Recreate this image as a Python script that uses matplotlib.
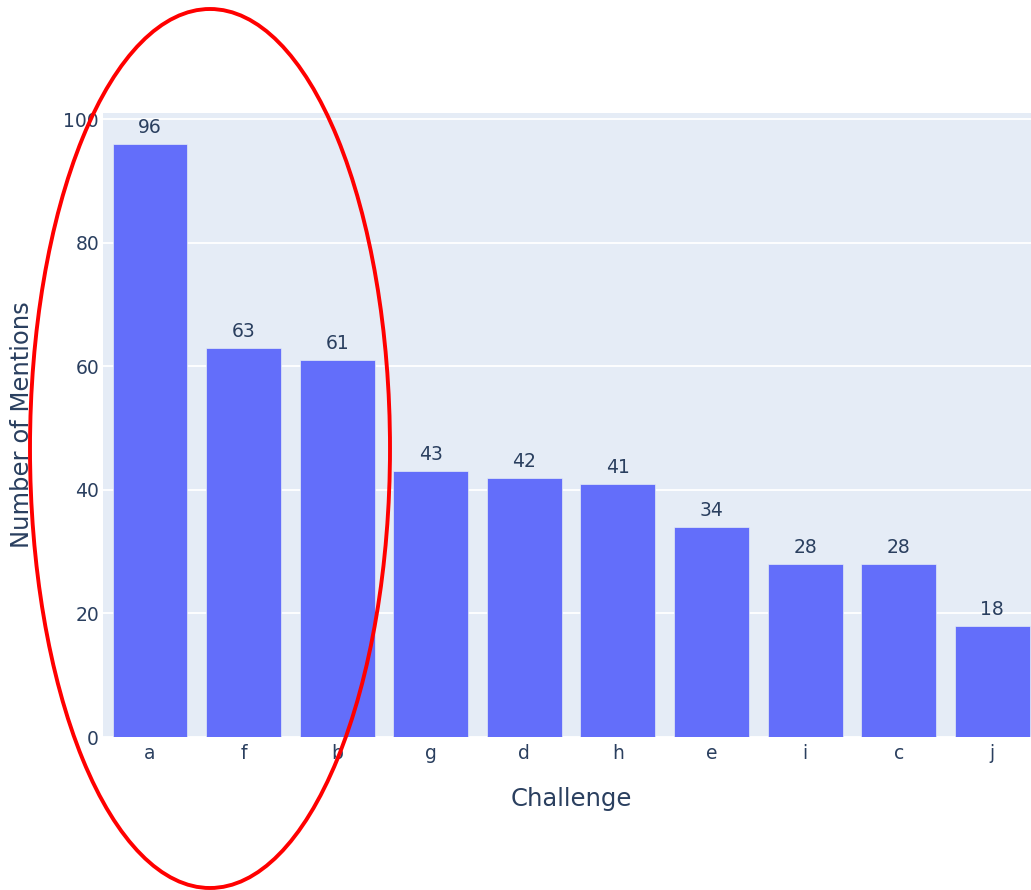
import matplotlib.pyplot as plt
from matplotlib.patches import Ellipse

plt.rcParams["font.family"] = ["DejaVu Sans"]

# datos del grafico
challenges = ["a", "f", "b", "g", "d", "h", "e", "i", "c", "j"]
mentions = [96, 63, 61, 43, 42, 41, 34, 28, 28, 18]
yticks = [0, 20, 40, 60, 80, 100]

texto = "#2a3f5f"

fig = plt.figure(figsize=(10.31, 8.9), dpi=100)
ax = fig.add_axes([0.1001, 0.1719, 0.9077, 0.7011])
ax.set_facecolor("#E5ECF6")

x = range(len(challenges))
barras = ax.bar(x, mentions, width=0.8, color="#636EFA",
                edgecolor="#E5ECF6", linewidth=0.5, zorder=3)
ax.bar_label(barras, labels=[str(v) for v in mentions], padding=5,
             fontsize=13.5, color=texto)

ax.set_xlim(-0.5, len(challenges) - 0.5)
ax.set_ylim(0, 101)
ax.set_xticks(list(x))
ax.set_xticklabels(challenges)
ax.set_yticks(yticks)
ax.tick_params(axis="both", length=0, labelsize=13.5, labelcolor=texto)
ax.tick_params(axis="x", pad=5)
ax.tick_params(axis="y", pad=3)
ax.grid(axis="y", color="white", linewidth=1.3, zorder=0)
for s in ax.spines.values():
    s.set_visible(False)

ax.set_xlabel("Challenge", fontsize=17.5, color=texto, labelpad=17)
ax.set_ylabel("Number of Mentions", fontsize=17.5, color=texto, labelpad=21)

# elipse roja marcando las tres primeras
elipse = Ellipse((210 / 1031, 1 - 448.5 / 890), 360 / 1031, 879 / 890,
                 transform=fig.transFigure, fill=False, edgecolor="red",
                 linewidth=2.8, zorder=10)
fig.add_artist(elipse)

fig.savefig("out.png", dpi=100)
